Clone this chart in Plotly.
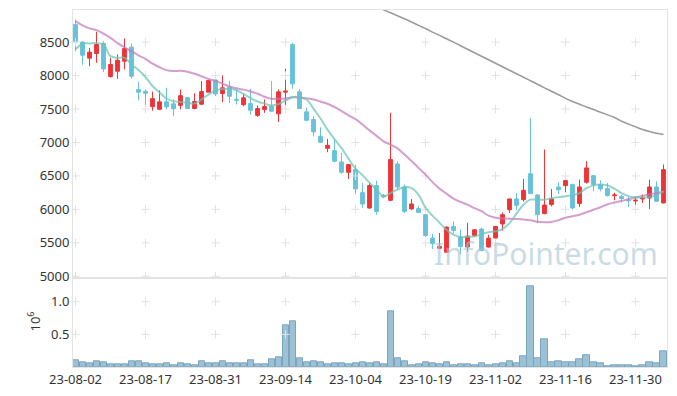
import pandas as pd
import plotly.graph_objects as go
from plotly.subplots import make_subplots

holidays = ["2023-08-15", "2023-09-28", "2023-09-29", "2023-10-02", "2023-10-03", "2023-10-09"]
days = pd.bdate_range("2023-08-02", "2023-12-06", freq="C", holidays=holidays)
dates = [d.strftime("%y-%m-%d") for d in days]

opens = [8765, 8500, 8260, 8330, 8480, 7985, 8065, 8215, 8425, 7790,
         7765, 7535, 7495, 7608, 7578, 7555, 7670, 7508, 7572, 7752,
         7935, 7732, 7825, 7645, 7565, 7582, 7405, 7493, 7542, 7428,
         7752, 8465, 7757, 7458, 7343, 7093, 6913, 6879, 6709, 6554,
         6594, 6250, 6020, 6355, 6210, 6135, 6679, 6335, 6006, 6011,
         5921, 5572, 5418, 5360, 5745, 5587, 5437, 5610, 5706, 5437,
         5572, 5782, 5995, 6156, 6146, 6534, 6215, 5936, 6071, 6335,
         6355, 6370, 6086, 6405, 6504, 6370, 6310, 6205, 6195, 6141,
         6127, 6155, 6170, 6335, 6096]
highs = [8840, 8510, 8415, 8655, 8515, 8265, 8315, 8555, 8475, 7905,
         7790, 7760, 7780, 7817, 7643, 7790, 7680, 7735, 7917, 7935,
         7980, 8002, 7917, 7802, 7728, 7802, 7552, 7642, 7917, 7792,
         8102, 8490, 7802, 7518, 7392, 7228, 7054, 7043, 6844, 6680,
         6669, 6395, 6395, 6430, 6230, 7443, 6720, 6370, 6156, 6055,
         5925, 5635, 5647, 5745, 5820, 5700, 5800, 5700, 5730, 5620,
         5750, 5955, 6160, 6245, 6455, 7370, 6230, 6894, 6305, 6405,
         6535, 6385, 6445, 6720, 6510, 6435, 6395, 6250, 6220, 6195,
         6195, 6220, 6445, 6420, 6670]
lows = [8360, 8160, 8140, 8190, 8055, 7970, 7950, 8090, 7955, 7630,
        7445, 7475, 7490, 7495, 7393, 7495, 7500, 7495, 7557, 7752,
        7692, 7602, 7592, 7567, 7542, 7418, 7383, 7443, 7452, 7308,
        7552, 7802, 7507, 7318, 7093, 6994, 6854, 6704, 6530, 6455,
        6230, 6021, 6010, 5920, 6165, 6125, 6300, 5945, 5995, 5945,
        5587, 5408, 5412, 5350, 5640, 5330, 5370, 5590, 5371, 5430,
        5550, 5680, 5946, 5990, 6115, 6230, 5797, 5930, 6046, 6230,
        6255, 5996, 6035, 6385, 6270, 6270, 6195, 6135, 6105, 6035,
        6070, 6095, 6005, 6110, 6090]
closes = [8500, 8305, 8350, 8465, 8100, 8165, 8230, 8405, 7990, 7750,
          7735, 7655, 7607, 7532, 7503, 7700, 7507, 7612, 7760, 7927,
          7725, 7817, 7690, 7630, 7668, 7482, 7507, 7537, 7467, 7757,
          7767, 7877, 7507, 7332, 7158, 7003, 6958, 6718, 6554, 6669,
          6305, 6080, 6355, 5970, 6185, 6744, 6335, 5970, 6081, 5955,
          5610, 5490, 5447, 5735, 5685, 5446, 5600, 5695, 5386, 5570,
          5745, 5921, 6156, 6060, 6285, 6235, 5921, 6066, 6156, 6293,
          6430, 6021, 6335, 6620, 6370, 6305, 6205, 6215, 6160, 6130,
          6136, 6170, 6335, 6120, 6594]

ma5 = [8391, 8476, 8481, 8485, 8466, 8290, 8266, 8266, 8166, 8084,
       7979, 7844, 7747, 7657, 7617, 7605, 7593, 7582, 7642, 7717,
       7777, 7799, 7802, 7781, 7725, 7665, 7612, 7582, 7552, 7575,
       7627, 7677, 7677, 7642, 7507, 7358, 7193, 7051, 6916, 6759,
       6609, 6512, 6400, 6295, 6195, 6243, 6295, 6332, 6317, 6220,
       6025, 5906, 5801, 5696, 5621, 5587, 5589, 5596, 5629, 5659,
       5671, 5704, 5794, 5936, 6070, 6145, 6145, 6145, 6165, 6183,
       6195, 6213, 6243, 6317, 6359, 6370, 6359, 6310, 6243, 6198,
       6180, 6178, 6183, 6213, 6271]
ma20 = [8814, 8750, 8705, 8680, 8626, 8563, 8484, 8421, 8361, 8301,
        8249, 8177, 8124, 8081, 8067, 8072, 8057, 8027, 7990, 7949,
        7919, 7879, 7837, 7810, 7790, 7762, 7728, 7684, 7653, 7653,
        7657, 7675, 7672, 7659, 7642, 7612, 7578, 7530, 7470, 7406,
        7350, 7268, 7181, 7099, 7016, 6969, 6912, 6819, 6722, 6620,
        6519, 6407, 6310, 6235, 6160, 6111, 6070, 6018, 5973, 5906,
        5876, 5864, 5861, 5856, 5850, 5838, 5816, 5808, 5811, 5838,
        5876, 5898, 5920, 5957, 5995, 6032, 6077, 6103, 6125, 6152,
        6174, 6204, 6224, 6245, 6269]
ma60 = [None] * 42 + [
        9075, 9030, 8984, 8939, 8894, 8849, 8801, 8750,
        8701, 8650, 8600, 8551, 8499, 8446, 8394, 8341, 8289, 8237,
        8184, 8132, 8079, 8027, 7975, 7922, 7870, 7817, 7765, 7713,
        7660, 7612, 7572, 7531, 7493, 7452, 7413, 7373, 7317, 7275,
        7234, 7193, 7163, 7138, 7118]

volume_m = [0.098, 0.068, 0.052, 0.083, 0.068, 0.037, 0.046, 0.046, 0.083, 0.083,
            0.052, 0.037, 0.037, 0.052, 0.021, 0.052, 0.037, 0.021, 0.083, 0.052,
            0.052, 0.083, 0.052, 0.052, 0.052, 0.098, 0.037, 0.037, 0.114, 0.145,
            0.637, 0.698, 0.129, 0.068, 0.083, 0.068, 0.037, 0.052, 0.052, 0.037,
            0.052, 0.068, 0.052, 0.068, 0.037, 0.852, 0.129, 0.083, 0.021, 0.037,
            0.068, 0.052, 0.037, 0.068, 0.021, 0.037, 0.037, 0.021, 0.052, 0.021,
            0.037, 0.052, 0.083, 0.052, 0.160, 1.237, 0.129, 0.421, 0.068, 0.083,
            0.068, 0.068, 0.114, 0.175, 0.068, 0.052, 0.006, 0.021, 0.021, 0.021,
            0.006, 0.021, 0.068, 0.052, 0.242]

price_ticks = [5000, 5500, 6000, 6500, 7000, 7500, 8000, 8500]
vol_ticks = [0.5, 1.0]
tick_idx = list(range(0, 81, 10))
tick_dates = [dates[i] for i in tick_idx]

RED = "#ee3438"
BLUE = "#68c2d9"
GRID = "#e2e2e2"
FRAME = "#e3e3e3"

fig = make_subplots(rows=2, cols=1, shared_xaxes=True, vertical_spacing=0,
                    row_heights=[0.7515, 0.2485])

fig.add_trace(go.Scatter(x=dates, y=ma60, mode="lines", line=dict(color="#9a9a9a", width=1.5, shape="spline"),
                         connectgaps=False), row=1, col=1)
fig.add_trace(go.Bar(x=dates, y=volume_m, width=0.86,
                     marker=dict(color="rgba(140,182,204,0.85)", line=dict(color="#7aa5bc", width=1))),
              row=2, col=1)

# grid crosses
cx = [d for d in tick_dates for _ in price_ticks]
cy = [p for _ in tick_dates for p in price_ticks]
fig.add_trace(go.Scatter(x=cx, y=cy, mode="markers", hoverinfo="skip",
                         marker=dict(symbol="cross-thin", size=6,
                                     line=dict(color=GRID, width=1))), row=1, col=1)
vx = [d for d in tick_dates for _ in vol_ticks]
vy = [p for _ in tick_dates for p in vol_ticks]
fig.add_trace(go.Scatter(x=vx, y=vy, mode="markers", hoverinfo="skip",
                         marker=dict(symbol="cross-thin", size=6,
                                     line=dict(color=GRID, width=1))), row=2, col=1)

fig.add_trace(go.Scatter(x=dates, y=ma20, mode="lines", line=dict(color="rgba(196,120,190,0.72)", width=2, shape="spline")),
              row=1, col=1)
fig.add_trace(go.Scatter(x=dates, y=ma5, mode="lines", line=dict(color="rgba(110,195,180,0.72)", width=2, shape="spline")),
              row=1, col=1)

fig.add_trace(go.Candlestick(x=dates, open=opens, high=highs, low=lows, close=closes,
                             whiskerwidth=0,
                             increasing=dict(line=dict(color=RED, width=1), fillcolor=RED),
                             decreasing=dict(line=dict(color=BLUE, width=1), fillcolor=BLUE)),
              row=1, col=1)

fig.add_annotation(text="InfoPointer.com", xref="paper", yref="paper", x=0.988, y=0.255,
                   xanchor="right", yanchor="bottom", showarrow=False,
                   font=dict(family="Noto Sans", size=30, color="rgba(165,197,214,0.62)"))
fig.add_annotation(text="10<sup>6</sup>", xref="paper", yref="paper", x=-0.086, y=0.095,
                   showarrow=False, textangle=-90,
                   font=dict(family="Noto Sans", size=13, color="#333"))

axis_font = dict(family="Noto Sans", size=13, color="#333")
fig.update_xaxes(type="category", categoryorder="array", categoryarray=dates,
                 range=[-0.36, 84.5], showgrid=False, zeroline=False,
                 showline=True, linecolor=FRAME, mirror=True, ticks="",
                 rangeslider=dict(visible=False), tickfont=axis_font, tickangle=0)
fig.update_xaxes(tickvals=tick_dates, ticktext=tick_dates, showticklabels=True, row=2, col=1)
fig.update_xaxes(showticklabels=False, row=1, col=1)
fig.update_yaxes(range=[4970, 8980], tickvals=price_ticks, showgrid=False, zeroline=False,
                 showline=True, linecolor=FRAME, mirror=True, ticks="", tickfont=axis_font,
                 row=1, col=1)
fig.update_yaxes(range=[0, 1.36], tickvals=vol_ticks, ticktext=["0.5", "1.0"], showgrid=False,
                 zeroline=False, showline=True, linecolor=FRAME, mirror=True, ticks="",
                 tickfont=axis_font, row=2, col=1)

# page body has an 8px default margin; size the figure so the plot lands where the reference has it
fig.update_layout(width=669, height=388, margin=dict(l=65, r=10, t=2, b=29),
                  paper_bgcolor="white", plot_bgcolor="white", showlegend=False,
                  bargap=0, boxgap=0.22, font=axis_font)

fig.write_html("out.html")
